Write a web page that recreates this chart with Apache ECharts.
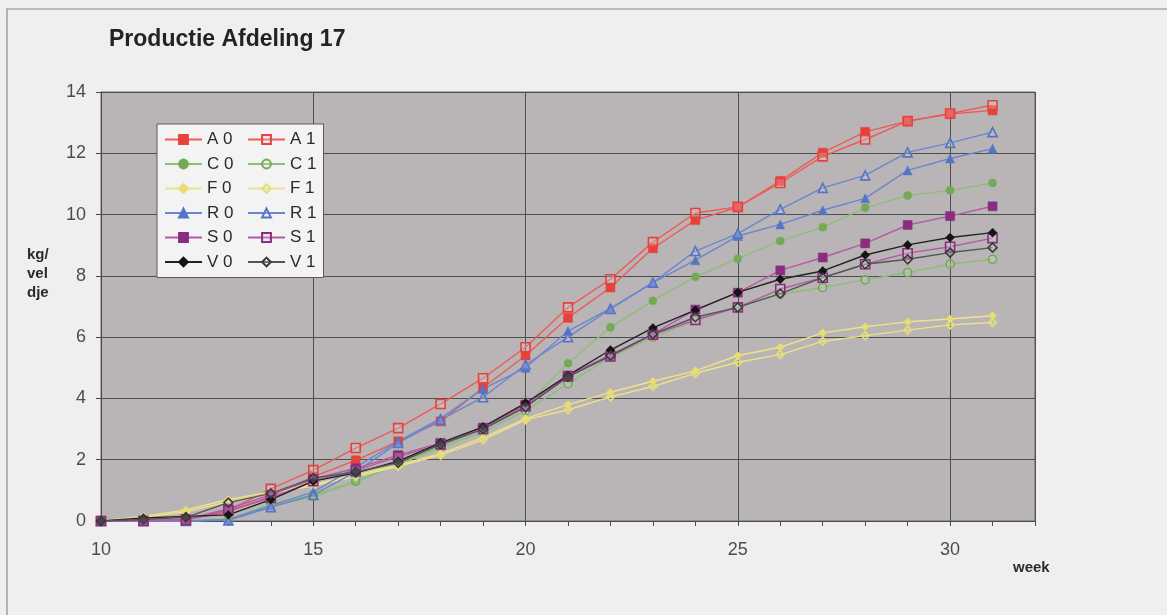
<!DOCTYPE html>
<html>
<head>
<meta charset="utf-8">
<title>Productie Afdeling 17</title>
<script src="https://cdn.jsdelivr.net/npm/echarts@6/dist/echarts.min.js"></script>
<style>
  html, body { margin: 0; padding: 0; background: #efeff1; }
  #chart { width: 1167px; height: 615px; }
</style>
</head>
<body>
<div id="chart"></div>
<script>
// Weeks 10 .. 31
const weeks = [10, 11, 12, 13, 14, 15, 16, 17, 18, 19, 20, 21, 22, 23, 24, 25, 26, 27, 28, 29, 30, 31];

// Cumulative production, kg per veldje
const A0 = [0, 0, 0.05, 0.3, 0.8, 1.45, 1.98, 2.6, 3.25, 4.35, 5.4, 6.63, 7.62, 8.9, 9.82, 10.24, 11.1, 12.02, 12.7, 13.05, 13.28, 13.4];
const A1 = [0, 0, 0.05, 0.35, 1.05, 1.66, 2.38, 3.03, 3.82, 4.66, 5.67, 6.97, 7.89, 9.1, 10.05, 10.25, 11.03, 11.9, 12.45, 13.05, 13.3, 13.57];
const C0 = [0, 0, 0, 0.05, 0.5, 0.79, 1.28, 1.85, 2.45, 3.0, 3.75, 5.15, 6.32, 7.19, 7.97, 8.56, 9.14, 9.59, 10.22, 10.62, 10.79, 11.03];
const C1 = [0, 0, 0, 0.05, 0.55, 0.85, 1.3, 1.85, 2.4, 2.9, 3.6, 4.48, 5.35, 6.0, 6.55, 7.0, 7.4, 7.62, 7.87, 8.11, 8.38, 8.54];
const F0 = [0, 0.15, 0.36, 0.7, 0.95, 1.2, 1.5, 1.82, 2.2, 2.72, 3.34, 3.8, 4.2, 4.56, 4.9, 5.4, 5.67, 6.14, 6.34, 6.5, 6.59, 6.7];
const F1 = [0, 0.12, 0.3, 0.63, 0.9, 1.15, 1.45, 1.78, 2.15, 2.65, 3.3, 3.63, 4.05, 4.39, 4.82, 5.18, 5.43, 5.86, 6.05, 6.23, 6.4, 6.48];
const R0 = [0, 0, 0, 0.05, 0.5, 0.95, 1.75, 2.6, 3.35, 4.31, 5.0, 6.2, 6.94, 7.78, 8.51, 9.3, 9.68, 10.14, 10.53, 11.44, 11.83, 12.15];
const R1 = [0, 0, 0, 0.02, 0.45, 0.85, 1.6, 2.55, 3.3, 4.04, 5.1, 6.0, 6.92, 7.78, 8.81, 9.38, 10.17, 10.87, 11.28, 12.03, 12.34, 12.69];
const S0 = [0, 0, 0.05, 0.4, 0.85, 1.37, 1.72, 2.15, 2.55, 3.05, 3.8, 4.75, 5.42, 6.1, 6.9, 7.45, 8.18, 8.6, 9.06, 9.66, 9.95, 10.27];
const S1 = [0, 0, 0.03, 0.35, 0.75, 1.3, 1.65, 2.1, 2.5, 3.0, 3.75, 4.72, 5.37, 6.08, 6.56, 6.97, 7.57, 7.94, 8.38, 8.74, 8.95, 9.23];
const V0 = [0, 0.1, 0.15, 0.2, 0.7, 1.3, 1.57, 1.95, 2.55, 3.07, 3.85, 4.75, 5.58, 6.3, 6.88, 7.46, 7.89, 8.16, 8.68, 9.01, 9.25, 9.41];
const V1 = [0, 0.05, 0.12, 0.6, 0.9, 1.4, 1.6, 1.9, 2.5, 3.0, 3.72, 4.7, 5.4, 6.1, 6.65, 6.97, 7.42, 7.94, 8.38, 8.54, 8.76, 8.92];

// Axis tick values
const yTicks = [0, 2, 4, 6, 8, 10, 12, 14];
const xLabelTicks = [10, 15, 20, 25, 30];

const TEXT_FONT = '"Liberation Sans", Arial, sans-serif';

// name, values, symbol, colour, hollow marker?, marker size
const seriesDefs = [
  ['A 0', A0, 'rect',     '#e8413c', false, 9],
  ['A 1', A1, 'rect',     '#e8413c', true,  9],
  ['C 0', C0, 'circle',   '#74aa55', false, 8],
  ['C 1', C1, 'circle',   '#74aa55', true,  8],
  ['F 0', F0, 'diamond',  '#e6de6e', false, 8],
  ['F 1', F1, 'diamond',  '#e6de6e', true,  8],
  ['R 0', R0, 'triangle', '#5574c6', false, 9],
  ['R 1', R1, 'triangle', '#5574c6', true,  9],
  ['S 0', S0, 'rect',     '#8b2c80', false, 9],
  ['S 1', S1, 'rect',     '#8b2c80', true,  9],
  ['V 0', V0, 'diamond',  '#141414', false, 9],
  ['V 1', V1, 'diamond',  '#3a3a3a', true,  9]
];

const lineColours = {
  'A': '#ee5a55', 'C': '#8cbf74', 'F': '#ece38a', 'R': '#6a86cf', 'S': '#b55aa6', 'V': '#222222'
};

const series = seriesDefs.map(([name, values, symbol, colour, hollow, size]) => ({
  name: name,
  type: 'line',
  xAxisIndex: 0,
  data: weeks.map((w, i) => [w, values[i]]),
  symbol: symbol,
  symbolSize: size,
  showAllSymbol: true,
  lineStyle: { color: name === 'V 1' ? '#555' : lineColours[name[0]], width: 1.4 },
  itemStyle: hollow
    ? { color: 'rgba(220,220,220,0.25)', borderColor: colour, borderWidth: 1.6 }
    : { color: colour, borderColor: colour, borderWidth: 0.5 },
  emphasis: { disabled: true },
  animation: false
}));

const chart = echarts.init(document.getElementById('chart'));
chart.setOption({
  backgroundColor: '#efeff1',
  animation: false,
  title: {
    text: 'Productie Afdeling 17',
    left: 104,
    top: 23,
    textStyle: { fontFamily: TEXT_FONT, fontSize: 23, fontWeight: 'bold', color: '#232323' }
  },
  grid: {
    left: 101, right: 132, top: 92, bottom: 94,
    show: true,
    backgroundColor: '#b9b4b5',
    borderColor: '#6d6d6d',
    borderWidth: 1
  },
  legend: {
    left: 157,
    top: 124,
    width: 170,
    orient: 'horizontal',
    padding: [7, 1, 7, 7],
    itemGap: 7.5,
    itemWidth: 37,
    itemHeight: 11,
    backgroundColor: '#f3f3f4',
    borderColor: '#5a5a5a',
    borderWidth: 1,
    borderRadius: 0,
    selectedMode: false,
    textStyle: { fontFamily: TEXT_FONT, fontSize: 17, color: '#2a2a2a', width: 32.5, lineHeight: 14.6 },
    data: seriesDefs.map(d => d[0])
  },
  xAxis: [
    {
      type: 'value',
      position: 'bottom',
      min: 10,
      max: 32,
      interval: 5,
      axisLine: { show: true, lineStyle: { color: '#4a4a4a', width: 1 } },
      axisTick: { show: false },
      axisLabel: {
        margin: 20,
        fontFamily: TEXT_FONT,
        fontSize: 18,
        color: '#4d4d4d',
        showMaxLabel: false,
        formatter: v => (xLabelTicks.indexOf(v) >= 0 ? String(v) : '')
      },
      splitLine: { show: true, lineStyle: { color: '#4f4f4f', width: 1 } }
    },
    {
      // week-by-week tick marks along the bottom
      type: 'value',
      position: 'bottom',
      offset: 0,
      min: 10,
      max: 32,
      interval: 1,
      axisLine: { show: false },
      axisTick: { show: true, length: 5, lineStyle: { color: '#4a4a4a' } },
      axisLabel: { show: false },
      splitLine: { show: false }
    }
  ],
  yAxis: {
    type: 'value',
    min: yTicks[0],
    max: yTicks[yTicks.length - 1],
    interval: 2,
    axisLine: { show: true, lineStyle: { color: '#4a4a4a', width: 1 } },
    axisTick: { show: true, length: 5, lineStyle: { color: '#4a4a4a' } },
    axisLabel: { margin: 15, fontFamily: TEXT_FONT, fontSize: 18, color: '#4d4d4d' },
    splitLine: { show: true, lineStyle: { color: '#4f4f4f', width: 1 } }
  },
  graphic: [
    {
      type: 'polyline',
      shape: { points: [[7, 615], [7, 9], [1167, 9]] },
      style: { stroke: '#8a8a8a', lineWidth: 1.2, fill: null },
      silent: true
    },
    {
      type: 'text',
      left: 27,
      top: 245,
      style: {
        text: 'kg/\nvel\ndje',
        font: 'bold 15px "Liberation Sans", Arial, sans-serif',
        fill: '#2b2b2b',
        lineHeight: 19
      }
    },
    {
      type: 'text',
      left: 1013,
      top: 560,
      style: {
        text: 'week',
        font: 'bold 15px "Liberation Sans", Arial, sans-serif',
        fill: '#2b2b2b'
      }
    }
  ],
  series: series
});
</script>
</body>
</html>
